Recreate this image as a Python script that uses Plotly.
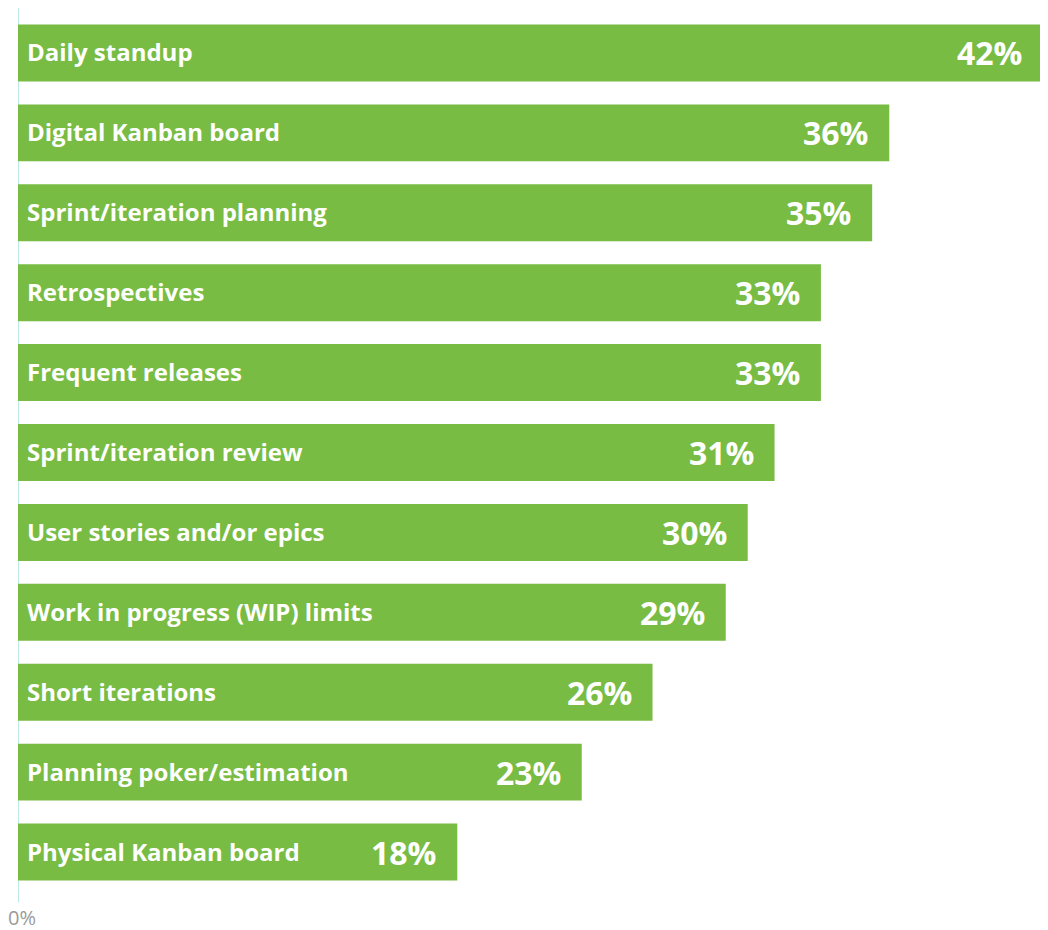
import plotly.graph_objects as go

categories = ["Daily standup", "Digital Kanban board", "Sprint/iteration planning",
              "Retrospectives", "Frequent releases", "Sprint/iteration review",
              "User stories and/or epics", "Work in progress (WIP) limits",
              "Short iterations", "Planning poker/estimation", "Physical Kanban board"]
values = [42.0, 35.7, 35.0, 32.9, 32.9, 31.0, 29.9, 29.0, 26.0, 23.1, 18.0]
value_labels = ["42%", "36%", "35%", "33%", "33%", "31%", "30%", "29%", "26%", "23%", "18%"]
axis_label = "0%"

BAR = "#78bc43"
FONT = "Open Sans"

fig = go.Figure(go.Bar(
    x=values, y=categories, orientation="h",
    marker=dict(color=BAR, line=dict(width=0)),
    hoverinfo="skip",
))

annotations = []
for c, v, lab in zip(categories, values, value_labels):
    annotations.append(dict(x=0, y=c, xref="x", yref="y", text=c, showarrow=False,
                            xanchor="left", xshift=7, yshift=1,
                            font=dict(family=FONT, size=24, color="white", weight="bold")))
    annotations.append(dict(x=v, y=c, xref="x", yref="y", text=lab, showarrow=False,
                            xanchor="right", xshift=-19, yshift=0,
                            font=dict(family=FONT, size=32, color="white", weight="bold")))
annotations.append(dict(x=0, y=0, xref="x", yref="paper", text=axis_label, showarrow=False,
                        xanchor="center", yanchor="middle", xshift=3.5, yshift=-25.5,
                        font=dict(family=FONT, size=20, color="#9a9a9a")))

fig.update_layout(
    width=1040, height=922,
    margin=dict(l=10, r=5, t=4.5, b=37.5),
    paper_bgcolor="white", plot_bgcolor="white",
    bargap=0.2875,
    showlegend=False,
    xaxis=dict(range=[0, 42], showgrid=False, zeroline=False, showline=False,
               showticklabels=False, ticks=""),
    yaxis=dict(categoryorder="array", categoryarray=categories[::-1],
               showticklabels=False, showgrid=False, zeroline=False, showline=False,
               range=[-0.5, len(categories) - 0.5]),
    annotations=annotations,
    shapes=[dict(type="line", xref="x", yref="paper", x0=0, x1=0, y0=-0.012, y1=1.0085,
                 line=dict(color="#a9e3dc", width=1.5), layer="below")],
)

fig.write_html("out.html")
